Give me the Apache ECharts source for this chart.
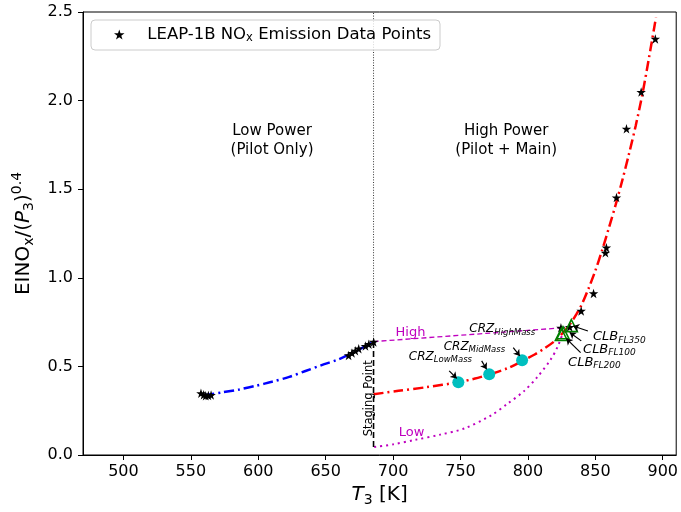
<!DOCTYPE html>
<html><head><meta charset="utf-8">
<script src="https://cdn.jsdelivr.net/npm/echarts@6/dist/echarts.min.js"></script>
<style>html,body{margin:0;padding:0;background:#fff}#c{width:681px;height:512px}</style>
</head><body><div id="c"></div>
<script>
// ---------- data ----------
const xTicks = [500, 550, 600, 650, 700, 750, 800, 850, 900];
const yTicks = [0.0, 0.5, 1.0, 1.5, 2.0, 2.5];

// LEAP-1B emission data points (T3 [K], EINOx/P3^0.4)
const starT = [557.5, 559.5, 561, 563, 565,
  667, 669.5, 672, 674.5, 679.5, 682, 685.6,
  824.5, 831, 839.5, 848.7, 857.5, 858.2, 865.7, 873.1, 884, 894.5];
const starV = [0.348, 0.340, 0.335, 0.336, 0.338,
  0.562, 0.575, 0.588, 0.600, 0.615, 0.625, 0.638,
  0.718, 0.722, 0.813, 0.912, 1.141, 1.170, 1.453, 1.841, 2.048, 2.348];

// Low power fit (blue)
const lowFitT = [560, 573, 586, 598, 610, 623, 635, 647, 660, 667, 676, 686];
const lowFitV = [0.337, 0.353, 0.370, 0.390, 0.413, 0.441, 0.474, 0.507, 0.541, 0.565, 0.600, 0.640];

// High power fit (red)
const highFitT = [685.5, 704, 725, 748, 760, 772, 785, 796, 805, 812, 820, 826, 832, 836, 840, 845, 850, 855, 860, 865, 870, 875, 880, 885, 890, 895];
const highFitV = [0.343, 0.362, 0.383, 0.410, 0.430, 0.456, 0.490, 0.531, 0.567, 0.600, 0.644, 0.690, 0.747, 0.795, 0.850, 0.940, 1.040, 1.155, 1.280, 1.410, 1.550, 1.700, 1.860, 2.040, 2.250, 2.470];

// "High" bound (magenta dashed)
const highBoundT = [685.5, 826];
const highBoundV = [0.640, 0.718];

// "Low" bound (magenta dotted)
const lowBoundT = [686, 700, 716, 735, 753, 773, 785, 797, 807, 817, 822, 826];
const lowBoundV = [0.045, 0.060, 0.085, 0.115, 0.150, 0.225, 0.290, 0.360, 0.440, 0.540, 0.610, 0.690];

// staging point
const stagingT = 685.5;
const stagingV = [0.045, 0.640, 2.5];

// cruise points (cyan)
const crzT = [748.4, 771.3, 795.7];
const crzV = [0.411, 0.456, 0.535];
const crzNames = ['LowMass', 'MidMass', 'HighMass'];

// climb points (green triangles)
const clbT = [832.2, 826.0, 824.8];
const clbV = [0.730, 0.690, 0.680];
const clbNames = ['FL350', 'FL100', 'FL200'];

// annotation anchors (data coords)
const crzLabelT = [735.1, 760.3, 781.0];
const crzLabelV = [0.552, 0.608, 0.709];
const crzArrowFrom = [[741.6, 0.475], [765.7, 0.531], [789.1, 0.606]];
const crzArrowTo = [[747.2, 0.432], [769.4, 0.484], [794.0, 0.559]];
const clbLabelT = [848.3, 840.9, 829.8];
const clbLabelV = [0.667, 0.597, 0.524];
const clbArrowFrom = [[844.5, 0.700], [839.6, 0.644], [839.1, 0.578]];
const clbArrowTo = [[833.5, 0.728], [831.0, 0.691], [828.5, 0.657]];

// ---------- build ----------
const FONT = 'DejaVu Sans';
const MAG = '#bf00bf';
const starPath = 'path://M50,0L61.2,34.5L97.6,34.5L68.2,55.9L79.4,90.5L50,69.1L20.6,90.5L31.8,55.9L2.4,34.5L38.8,34.5Z';
const zip = (a, b) => a.map((v, i) => [v, b[i]]);
const legendName = 'LEAP-1B NOx Emission Data Points';

const annItems = [];
annItems.push({value: [610.2, 1.776], label: {formatter: '{n|Low Power}\n{n|(Pilot Only)}'}});
annItems.push({value: [783.9, 1.776], label: {formatter: '{n|High Power}\n{n|(Pilot + Main)}'}});
annItems.push({value: [712.9, 0.693], label: {formatter: '{m|High}'}});
annItems.push({value: [713.7, 0.124], label: {formatter: '{m|Low}'}});
annItems.push({value: [681.8, 0.320], label: {formatter: '{sp|Staging Point}', rotate: 90}});
crzNames.forEach((nm, i) => annItems.push({value: [crzLabelT[i], crzLabelV[i]],
  label: {formatter: '{ci|CRZ}{cs|' + nm + '}'}}));
clbNames.forEach((nm, i) => annItems.push({value: [clbLabelT[i], clbLabelV[i]],
  label: {formatter: '{li|CLB}{ls|' + nm + '}', align: 'left'}}));

const arrows = [];
crzArrowFrom.forEach((p, i) => arrows.push({coords: [p, crzArrowTo[i]]}));
clbArrowFrom.forEach((p, i) => arrows.push({coords: [p, clbArrowTo[i]]}));

const chart = echarts.init(document.getElementById('c'), null, {renderer: 'canvas'});
chart.setOption({
  animation: false,
  backgroundColor: '#fff',
  grid: {left: 83, right: 3, top: 12, bottom: 56, show: true, borderColor: '#000', borderWidth: 1},
  legend: {
    left: 91, top: 20,
    data: [{name: legendName, icon: starPath, itemStyle: {color: '#000', opacity: 1}}],
    itemWidth: 46, itemHeight: 10,
    padding: [6, 9, 6, 23],
    backgroundColor: 'rgba(255,255,255,0.8)',
    borderColor: '#cccccc', borderWidth: 1, borderRadius: 4,
    formatter: () => '{a|LEAP-1B NO}{s|x}{a| Emission Data Points}',
    textStyle: {
      rich: {
        a: {fontFamily: FONT, fontSize: 16.5, lineHeight: 19, color: '#000'},
        s: {fontFamily: FONT, fontSize: 11.5, lineHeight: 9, color: '#000', verticalAlign: 'bottom'}
      }
    }
  },
  xAxis: {
    type: 'value', min: 470, max: 910,
    name: '{i|T}{s|3}{n| [K]}', nameLocation: 'middle', nameGap: 28,
    nameTextStyle: {rich: {
      i: {fontFamily: FONT, fontSize: 20, fontStyle: 'italic', lineHeight: 24, color: '#000'},
      s: {fontFamily: FONT, fontSize: 14, lineHeight: 12, verticalAlign: 'bottom', color: '#000'},
      n: {fontFamily: FONT, fontSize: 20, lineHeight: 24, color: '#000'}
    }},
    axisLine: {show: true, onZero: false, lineStyle: {color: '#000', width: 1}},
    axisTick: {show: true, inside: false, length: 5, customValues: xTicks, lineStyle: {color: '#000'}},
    axisLabel: {customValues: xTicks, margin: 9, fontFamily: FONT, fontSize: 16, color: '#000'},
    splitLine: {show: false}
  },
  yAxis: {
    type: 'value', min: 0, max: 2.5, interval: 0.5,
    name: '{n|EINO}{s|x}{n|/(}{i|P}{s|3}{n|)}{p|0.4}', nameLocation: 'middle', nameGap: 44, nameRotate: 90,
    nameTextStyle: {rich: {
      n: {fontFamily: FONT, fontSize: 20, lineHeight: 26, color: '#000'},
      i: {fontFamily: FONT, fontSize: 20, fontStyle: 'italic', lineHeight: 26, color: '#000'},
      s: {fontFamily: FONT, fontSize: 14, lineHeight: 14, verticalAlign: 'bottom', color: '#000'},
      p: {fontFamily: FONT, fontSize: 14, lineHeight: 14, verticalAlign: 'top', color: '#000'}
    }},
    axisLine: {show: true, onZero: false, lineStyle: {color: '#000', width: 1}},
    axisTick: {show: true, inside: false, length: 5, lineStyle: {color: '#000'}},
    axisLabel: {margin: 10, fontFamily: FONT, fontSize: 16, color: '#000', formatter: v => v.toFixed(1)},
    splitLine: {show: false}
  },
  series: [
    {type: 'line', name: 'lowfit', data: zip(lowFitT, lowFitV), showSymbol: false, smooth: 0.3,
      lineStyle: {color: '#0000ff', width: 2.5, type: [10, 4, 2, 4]}, z: 3, silent: true},
    {type: 'line', name: 'highfit', data: zip(highFitT, highFitV), showSymbol: false, smooth: 0.3,
      lineStyle: {color: '#ff0000', width: 2.5, type: [10, 4, 2, 4]}, z: 3, silent: true},
    {type: 'line', name: 'highbound', data: zip(highBoundT, highBoundV), showSymbol: false,
      lineStyle: {color: MAG, width: 1.3, type: [5, 3]}, z: 2, silent: true},
    {type: 'line', name: 'lowbound', data: zip(lowBoundT, lowBoundV), showSymbol: false, smooth: 0.3,
      lineStyle: {color: MAG, width: 2, type: [2, 4]}, z: 2, silent: true},
    {type: 'line', name: 'stagingDotted', data: [[stagingT, stagingV[1]], [stagingT, stagingV[2]]], showSymbol: false,
      lineStyle: {color: '#000', width: 0.8, type: [1, 1.6]}, z: 2, silent: true},
    {type: 'line', name: 'stagingDashed', data: [[stagingT, stagingV[0]], [stagingT, stagingV[1]]], showSymbol: false,
      lineStyle: {color: '#000', width: 1.6, type: [6, 3]}, z: 2, silent: true},
    {type: 'scatter', name: legendName, data: zip(starT, starV), symbol: starPath, symbolSize: 9.5,
      itemStyle: {color: '#000', opacity: 1}, z: 5},
    {type: 'scatter', name: 'crz', data: zip(crzT, crzV), symbol: 'circle', symbolSize: 12,
      itemStyle: {color: '#00bfbf', opacity: 1}, z: 6},
    {type: 'scatter', name: 'clb', data: zip(clbT, clbV), symbol: 'triangle', symbolSize: 12,
      itemStyle: {color: 'rgba(0,0,0,0)', borderColor: '#008000', borderWidth: 1.6, opacity: 1}, z: 6},
    {type: 'lines', coordinateSystem: 'cartesian2d', data: arrows, symbol: ['none', 'arrow'], symbolSize: 6,
      lineStyle: {color: '#000', width: 1.2, opacity: 1}, z: 7, silent: true},
    {type: 'scatter', name: 'ann', data: annItems, symbolSize: 1, itemStyle: {color: 'rgba(0,0,0,0)', opacity: 1}, z: 8, silent: true,
      label: {show: true, position: 'inside', align: 'center', verticalAlign: 'middle', color: '#000', opacity: 1,
        rich: {
          n: {fontFamily: FONT, fontSize: 15, lineHeight: 19, color: '#000', align: 'center'},
          m: {fontFamily: FONT, fontSize: 13, lineHeight: 16, color: MAG},
          sp: {fontFamily: FONT, fontSize: 11.5, lineHeight: 14, color: '#000'},
          ci: {fontFamily: FONT, fontSize: 12, fontStyle: 'italic', lineHeight: 15, color: '#000'},
          cs: {fontFamily: FONT, fontSize: 8.5, fontStyle: 'italic', lineHeight: 8, verticalAlign: 'bottom', color: '#000'},
          li: {fontFamily: FONT, fontSize: 13, fontStyle: 'italic', lineHeight: 16, color: '#000'},
          ls: {fontFamily: FONT, fontSize: 9, fontStyle: 'italic', lineHeight: 9, verticalAlign: 'bottom', color: '#000'}
        }}}
  ]
});
</script></body></html>
